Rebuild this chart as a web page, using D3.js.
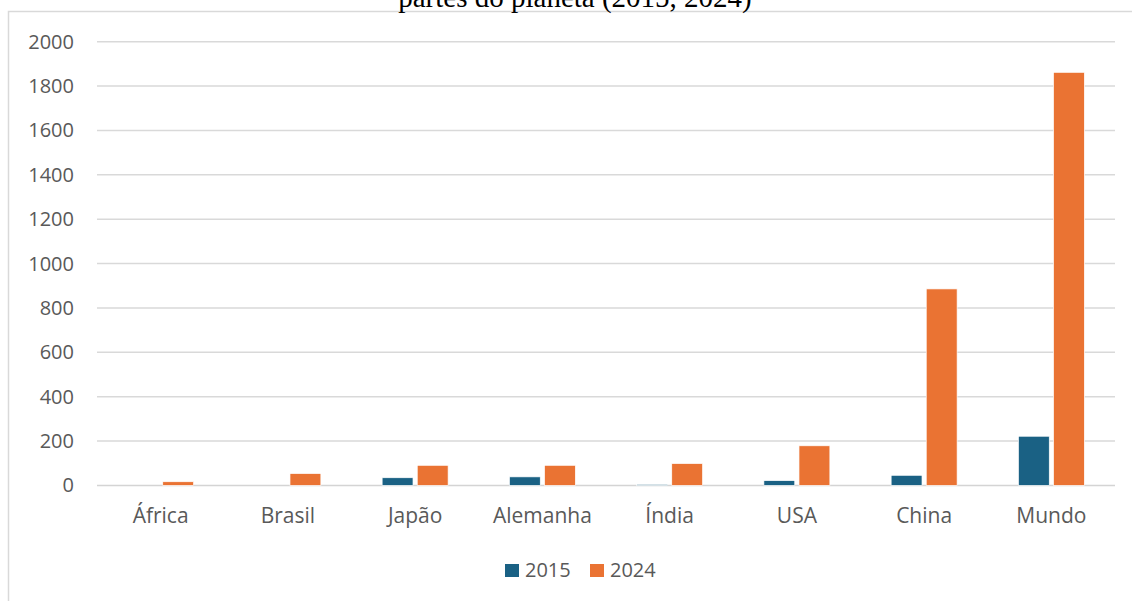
<!DOCTYPE html>
<html>
<head>
<meta charset="utf-8">
<script src="https://cdn.jsdelivr.net/npm/d3@7"></script>
<style>
  body { margin: 0; background: #fff; }
  svg { display: block; }
</style>
</head>
<body>
<div id="chart"></div>
<script>
var categories = ["África", "Brasil", "Japão", "Alemanha", "Índia", "USA", "China", "Mundo"];
var series = ["2015", "2024"];
var values2015 = [0, 0, 35, 39, 5, 22, 46, 222];
var values2024 = [17, 54, 91, 91, 99, 179, 886, 1862];
var yTicks = [0, 200, 400, 600, 800, 1000, 1200, 1400, 1600, 1800, 2000];
var titleText = "partes do planeta (2015, 2024)";

var width = 1132, height = 601;
var margin = {top: 41.7, right: 17, bottom: 115.5, left: 97};
var colors = {"2015": "#1a6184", "2024": "#ea7333"};

var svg = d3.select("#chart")
            .append("svg")
                .attr("width", width)
                .attr("height", height);

// chart border (cut off at right and bottom like the source)
svg.append("rect")
    .attr("x", 8.5).attr("y", 11.5)
    .attr("width", width + 10).attr("height", height + 10)
    .attr("fill", "none")
    .attr("stroke", "#d9d9d9")
    .attr("stroke-width", 1.5);

// title, clipped at the top
svg.append("text")
    .attr("x", 575)
    .attr("y", 7)
    .attr("text-anchor", "middle")
    .attr("font-family", "'Liberation Serif', 'Times New Roman', serif")
    .attr("font-size", 29)
    .attr("fill", "#000")
    .text(titleText);

var g = svg.append("g")
    .attr("transform", "translate(" + margin.left + "," + margin.top + ")");

var innerW = width - margin.left - margin.right;
var innerH = height - margin.top - margin.bottom;

var data = categories.map(function(c, i) {
    return {cat: c, "2015": values2015[i], "2024": values2024[i]};
});

var xScale = d3.scaleBand()
    .domain(categories)
    .range([0, innerW]);

var xSub = d3.scaleBand()
    .domain(series)
    .range([0, 66])
    .paddingInner(0.12);

var yScale = d3.scaleLinear()
    .domain([0, 2000])
    .range([innerH, 0]);

// gridlines
g.append("g")
    .selectAll("line")
    .data(yTicks)
    .enter()
    .append("line")
        .attr("x1", 0)
        .attr("x2", innerW)
        .attr("y1", function(d) { return yScale(d); })
        .attr("y2", function(d) { return yScale(d); })
        .attr("stroke", function(d) { return d === 0 ? "#d4d4d4" : "#d9d9d9"; })
        .attr("stroke-width", 1.5);

// y axis labels
var yAxis = g.append("g")
    .attr("transform", "translate(-23,0)")
    .call(d3.axisLeft(yScale).tickValues(yTicks).tickFormat(d3.format("d")).tickSize(0).tickPadding(0));
yAxis.select(".domain").remove();
yAxis.selectAll("text")
    .attr("font-family", "'Open Sans', sans-serif")
    .attr("font-size", 20)
    .attr("fill", "#595959");

// x axis labels
var xAxis = g.append("g")
    .attr("transform", "translate(0," + innerH + ")")
    .call(d3.axisBottom(xScale).tickSize(0).tickPadding(23));
xAxis.select(".domain").remove();
xAxis.selectAll("text")
    .attr("font-family", "'Open Sans', sans-serif")
    .attr("font-size", 21)
    .attr("fill", "#595959");

// bars
var offset = (xScale.bandwidth() - 66) / 2;
g.append("g")
    .selectAll("g")
    .data(data)
    .enter()
    .append("g")
        .attr("transform", function(d) { return "translate(" + (xScale(d.cat) + offset) + ",0)"; })
        .selectAll("rect")
        .data(function(d) { return series.map(function(s) { return {key: s, value: d[s]}; }); })
        .enter()
        .append("rect")
            .attr("x", function(d) { return xSub(d.key); })
            .attr("y", function(d) { return yScale(d.value); })
            .attr("width", xSub.bandwidth())
            .attr("height", function(d) { return innerH - yScale(d.value); })
            .attr("fill", function(d) { return colors[d.key]; })
            .attr("stroke", "#fff")
            .attr("stroke-width", 0.7);

// legend
var legend = svg.append("g")
    .attr("transform", "translate(505,564)");
var li = legend.selectAll("g")
    .data(series)
    .enter()
    .append("g")
        .attr("transform", function(d, i) { return "translate(" + (i * 85) + ",0)"; });
li.append("rect")
    .attr("width", 14).attr("height", 13)
    .attr("fill", function(d) { return colors[d]; });
li.append("text")
    .attr("x", 20)
    .attr("y", 13)
    .attr("font-family", "'Open Sans', sans-serif")
    .attr("font-size", 20)
    .attr("fill", "#595959")
    .text(function(d) { return d; });
</script>
</body>
</html>
